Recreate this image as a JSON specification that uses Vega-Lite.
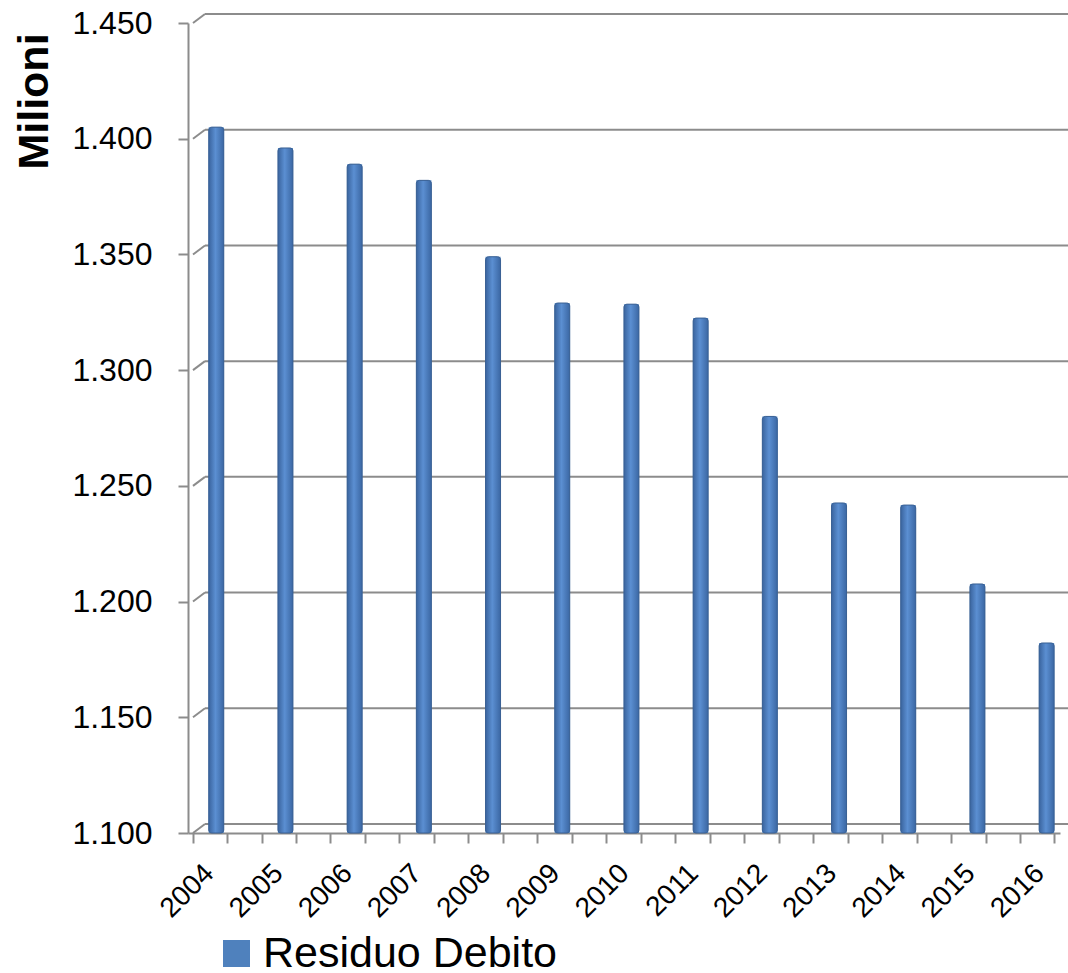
{
  "$schema": "https://vega.github.io/schema/vega-lite/v6.json",
  "autosize": "none",
  "width": 872,
  "height": 810,
  "padding": {"left": 188, "top": 23, "right": 8, "bottom": 140},
  "background": "white",
  "config": {
    "view": {"stroke": null},
    "font": "Liberation Sans",
    "axis": {"labelFont": "Liberation Sans", "titleFont": "Liberation Sans", "labelColor": "black", "titleColor": "black"}
  },
  "datasets": {
    "debito": [
      {"anno": 2004, "valore": 1.405, "serie": "Residuo Debito"},
      {"anno": 2005, "valore": 1.396, "serie": "Residuo Debito"},
      {"anno": 2006, "valore": 1.389, "serie": "Residuo Debito"},
      {"anno": 2007, "valore": 1.382, "serie": "Residuo Debito"},
      {"anno": 2008, "valore": 1.349, "serie": "Residuo Debito"},
      {"anno": 2009, "valore": 1.329, "serie": "Residuo Debito"},
      {"anno": 2010, "valore": 1.3285, "serie": "Residuo Debito"},
      {"anno": 2011, "valore": 1.3225, "serie": "Residuo Debito"},
      {"anno": 2012, "valore": 1.280, "serie": "Residuo Debito"},
      {"anno": 2013, "valore": 1.2426, "serie": "Residuo Debito"},
      {"anno": 2014, "valore": 1.2417, "serie": "Residuo Debito"},
      {"anno": 2015, "valore": 1.2076, "serie": "Residuo Debito"},
      {"anno": 2016, "valore": 1.1821, "serie": "Residuo Debito"}
    ],
    "griglia": [
      {"livello": 1.10}, {"livello": 1.15}, {"livello": 1.20}, {"livello": 1.25},
      {"livello": 1.30}, {"livello": 1.35}, {"livello": 1.40}, {"livello": 1.45}
    ]
  },
  "resolve": {"axis": {"x": "independent"}},
  "layer": [
    {
      "data": {"name": "griglia"},
      "mark": {"type": "rule", "color": "#8c8c8c", "strokeWidth": 2, "xOffset": 12, "x2Offset": 20, "yOffset": -9},
      "encoding": {
        "x": {"datum": 2003.664, "type": "quantitative", "axis": null},
        "x2": {"datum": 2016.121},
        "y": {
          "field": "livello", "type": "quantitative",
          "scale": {"domain": [1.1, 1.45], "zero": false, "nice": false},
          "axis": {
            "title": "Milioni",
            "titleFontSize": 43, "titleFontWeight": "bold",
            "titleAngle": -90, "titleAlign": "center", "titleBaseline": "alphabetic",
            "titleX": -141, "titleY": 78,
            "values": [1.1, 1.15, 1.2, 1.25, 1.3, 1.35, 1.4, 1.45],
            "format": ".3f",
            "labelFontSize": 32, "labelPadding": 26,
            "tickSize": 10, "tickColor": "#8c8c8c", "tickWidth": 2,
            "domainColor": "#8c8c8c", "domainWidth": 2,
            "grid": false
          }
        }
      }
    },
    {
      "data": {"name": "griglia"},
      "mark": {"type": "rule", "color": "#8c8c8c", "strokeWidth": 2, "x2Offset": 12, "y2Offset": -9},
      "encoding": {
        "x": {"datum": 2003.664, "type": "quantitative", "axis": null},
        "x2": {"datum": 2003.664},
        "y": {"field": "livello", "type": "quantitative"},
        "y2": {"field": "livello"}
      }
    },
    {
      "data": {"name": "debito"},
      "mark": {"type": "bar", "size": 15},
      "encoding": {
        "x": {
          "field": "anno", "type": "quantitative",
          "scale": {"domain": [2003.664, 2016.121], "zero": false, "nice": false},
          "axis": {
            "title": null,
            "orient": "bottom",
            "values": [2004, 2005, 2006, 2007, 2008, 2009, 2010, 2011, 2012, 2013, 2014, 2015, 2016],
            "format": "d",
            "labelAngle": -45, "labelAlign": "right", "labelBaseline": "top",
            "labelFontSize": 28, "labelPadding": 26, "labelOffset": -17, "labelLimit": 300,
            "labelFlush": false, "labelOverlap": false,
            "ticks": false,
            "domainColor": "#8c8c8c", "domainWidth": 2,
            "grid": false
          }
        },
        "y": {"field": "valore", "type": "quantitative"},
        "y2": {"datum": 1.1},
        "color": {
          "field": "serie", "type": "nominal",
          "scale": {"range": ["#4f81bd"]},
          "legend": {
            "title": null,
            "orient": "none", "legendX": 27, "legendY": 909,
            "padding": 0,
            "symbolType": "square", "symbolSize": 729, "symbolStrokeWidth": 0,
            "labelFontSize": 43, "labelOffset": 5, "labelLimit": 600, "labelColor": "black", "labelFont": "Liberation Sans"
          }
        }
      }
    },
    {
      "data": {"name": "debito"},
      "mark": {
        "type": "bar", "size": 15,
        "cornerRadiusEnd": 3,
        "fill": {
          "gradient": "linear", "x1": 0, "x2": 1, "y1": 0, "y2": 0,
          "stops": [
            {"offset": 0, "color": "#3a649e"},
            {"offset": 0.45, "color": "#5b8fd2"},
            {"offset": 1, "color": "#3b67a3"}
          ]
        },
        "stroke": "#3a6194", "strokeWidth": 1
      },
      "encoding": {
        "x": {
          "field": "anno", "type": "quantitative",
          "axis": {
            "title": null,
            "orient": "bottom",
            "values": [2003.665, 2004.155, 2004.654, 2005.152, 2005.650, 2006.149, 2006.647, 2007.145, 2007.643, 2008.142, 2008.640, 2009.138, 2009.637, 2010.135, 2010.633, 2011.131, 2011.630, 2012.128, 2012.626, 2013.125, 2013.623, 2014.121, 2014.619, 2015.118, 2015.616, 2016.113],
            "labels": false, "domain": false,
            "ticks": true, "tickSize": 10, "tickColor": "#8c8c8c", "tickWidth": 2,
            "grid": false
          }
        },
        "y": {"field": "valore", "type": "quantitative"},
        "y2": {"datum": 1.1}
      }
    }
  ]
}
